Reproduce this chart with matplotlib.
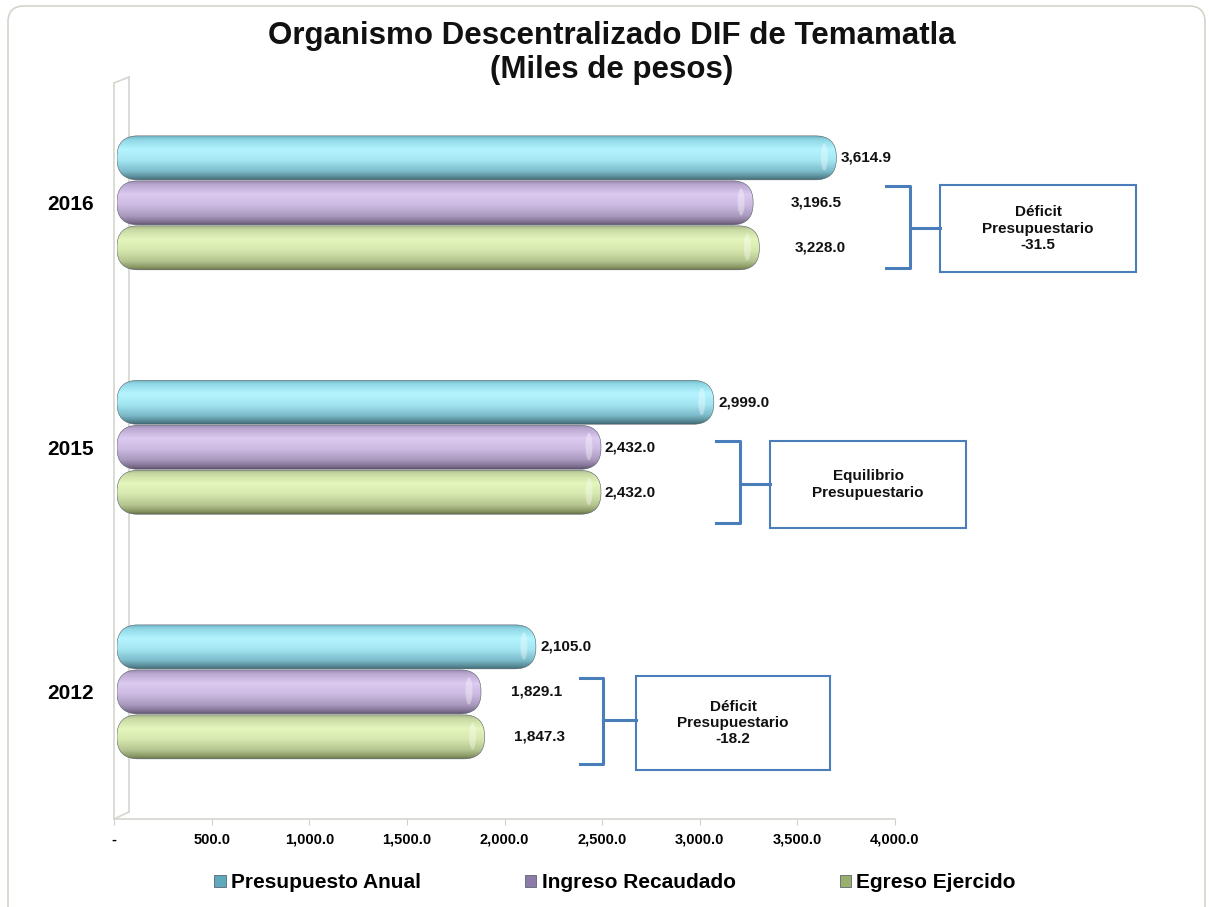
import numpy as np
import matplotlib
matplotlib.use("Agg")
import matplotlib.pyplot as plt
from matplotlib.patches import FancyBboxPatch, Ellipse, Rectangle, Patch
from matplotlib.colors import LinearSegmentedColormap
from matplotlib.lines import Line2D
from matplotlib.transforms import IdentityTransform

plt.rcParams['font.family'] = ['Liberation Sans', 'DejaVu Sans']

# ---------------- data ----------------
years = ["2012", "2015", "2016"]
presupuesto_anual = [2105.0, 2999.0, 3614.9]
ingreso_recaudado = [1829.1, 2432.0, 3196.5]
egreso_ejercido = [1847.3, 2432.0, 3228.0]
series_names = ["Presupuesto Anual", "Ingreso Recaudado", "Egreso Ejercido"]
x_ticks = [0, 500, 1000, 1500, 2000, 2500, 3000, 3500, 4000]
notes = ["Déficit\nPresupuestario\n-18.2",
         "Equilibrio\nPresupuestario",
         "Déficit\nPresupuestario\n-31.5"]
title = "Organismo Descentralizado DIF de Temamatla\n(Miles de pesos)"

# ---------------- styles / layout ----------------
W, H = 1209, 907
label_pad_px = [[5, 5, 4], [30, 4, 38], [29, 4, 35]]  # per series, per year
grad_stops = [
    [(0, "#6fb3c2"), (0.08, "#8fd6e4"), (0.3, "#b4f4ff"), (0.55, "#a4e6f2"),
     (0.8, "#7dbccb"), (0.95, "#53838f"), (1, "#3f6670")],
    [(0, "#9a8ab0"), (0.08, "#baa8d2"), (0.3, "#dccaf0"), (0.55, "#ccbae2"),
     (0.8, "#a898bc"), (0.95, "#7a6a8a"), (1, "#5c5068")],
    [(0, "#a8b886"), (0.08, "#c8d8a2"), (0.3, "#e4f6bc"), (0.55, "#d6e8ae"),
     (0.8, "#b4c490"), (0.95, "#84925e"), (1, "#646e48")],
]
legend_colors = ["#5fa9bd", "#8c7aa8", "#9aae6e"]
bracket_color = "#4a7ebb"
# bracket layout in figure pixels: (x_left, x_right, y_top, y_bottom, y_mid, box_x0, box_x1, box_y0, box_y1)
brackets = [
    (580, 603, 678, 764, 720, 636, 830, 676, 770),
    (716, 740, 441, 523, 484, 770, 966, 441, 528),
    (886, 910, 186, 268, 228, 940, 1136, 185, 272),
]

fig = plt.figure(figsize=(W / 100, H / 100), dpi=100)
fig.patch.set_facecolor("white")

def fx(x):
    return x / W

def fy(y):
    return 1 - y / H

# outer border
fig.add_artist(FancyBboxPatch((8, -30), 1197, H - 6 + 30,
                              boxstyle="round,pad=0,rounding_size=16",
                              transform=IdentityTransform(), facecolor="none",
                              edgecolor="#d4d4cc", linewidth=1.2))

# floor / wall axes (tick scale)
ax_f = fig.add_axes([fx(114), fy(819), 781 / W, 736 / H])
ax_f.set_facecolor("none")
ax_f.set_xlim(0, 4000)
ax_f.set_ylim(0, 1)
for s in ["top", "right"]:
    ax_f.spines[s].set_visible(False)
for s in ["bottom", "left"]:
    ax_f.spines[s].set_color("#d6d6ce")
    ax_f.spines[s].set_linewidth(1.2)
ax_f.set_yticks([])
ax_f.set_xticks(x_ticks)
ax_f.set_xticklabels(["-" if v == 0 else f"{v:,.1f}" for v in x_ticks],
                     fontsize=10.5, fontweight="bold")
ax_f.tick_params(axis="x", direction="out", length=4, color="#d0d0c8", pad=6)
xb = 15 / 781
for seg in [((xb, xb), (7 / 736, 1 + 6 / 736)),
            ((0, xb), (0, 7 / 736)),
            ((0, xb), (1, 1 + 6 / 736))]:
    ax_f.add_line(Line2D(seg[0], seg[1], transform=ax_f.transAxes,
                         color="#d6d6ce", lw=1.2, clip_on=False))

# main bar axes
ax = fig.add_axes([fx(117), fy(819), 796 / W, 736 / H])
ax.set_facecolor("none")
ax.set_xlim(0, 4000)
ax.set_ylim(-0.52, 2.49)
for s in ax.spines.values():
    s.set_visible(False)
ax.set_xticks([])
ax.set_yticks(range(len(years)))
ax.set_yticklabels(years, fontsize=15, fontweight="bold")
ax.tick_params(axis="y", length=0, pad=17)

xu = 4000 / 796          # data units per pixel (x)
yu = 3.01 / 736          # data units per pixel (y)
aspect = yu / xu
bh = 44 * yu
step = 45 * yu
offsets = [step, 0.0, -step]
series = [presupuesto_anual, ingreso_recaudado, egreso_ejercido]
grad = np.linspace(0, 1, 256).reshape(-1, 1)

for k, vals in enumerate(series):
    cmap = LinearSegmentedColormap.from_list(f"g{k}", grad_stops[k])
    ypos = [i + offsets[k] for i in range(len(years))]
    bars = ax.barh(ypos, vals, height=bh, color="none", edgecolor="none")
    for i, rect in enumerate(bars.patches):
        x0, y0 = rect.get_x(), rect.get_y()
        w, h = rect.get_width(), rect.get_height()
        patch = FancyBboxPatch((x0, y0), w, h,
                               boxstyle=f"round,pad=0,rounding_size={21 * xu}",
                               mutation_aspect=aspect, facecolor="none",
                               edgecolor="#55606a", linewidth=0.4, zorder=3)
        ax.add_patch(patch)
        im = ax.imshow(grad, cmap=cmap, aspect="auto", origin="upper",
                       extent=(x0, x0 + w, y0, y0 + h), zorder=2,
                       interpolation="bilinear")
        im.set_clip_path(patch)
        # end cap highlight
        ax.add_patch(Ellipse((x0 + w - 12 * xu, y0 + h * 0.52), 7 * xu, h * 0.62,
                             facecolor="white", alpha=0.35, edgecolor="none",
                             zorder=4))
        ax.annotate(f"{vals[i]:,.1f}", xy=(x0 + w, y0 + h / 2),
                    xytext=(label_pad_px[k][i] * 0.72, 0),
                    textcoords="offset points", ha="left", va="center",
                    fontsize=11, fontweight="bold", color="#111111",
                    annotation_clip=False)

ax.set_xlim(0, 4000)
ax.set_ylim(-0.52, 2.49)

# brackets and note boxes (figure pixel layout)
for b, note in zip(brackets, notes):
    xl, xr, yt, ybt, ym, bx0, bx1, by0, by1 = b
    fig.add_artist(Line2D([fx(xl), fx(xr), fx(xr), fx(xl)],
                          [fy(yt), fy(yt), fy(ybt), fy(ybt)],
                          color=bracket_color, lw=2.2))
    fig.add_artist(Line2D([fx(xr), fx(bx0)], [fy(ym), fy(ym)],
                          color=bracket_color, lw=2.2))
    fig.add_artist(Rectangle((fx(bx0), fy(by1)), fx(bx1) - fx(bx0), fy(by0) - fy(by1),
                             facecolor="white", edgecolor=bracket_color, lw=1.5))
    fig.text(fx((bx0 + bx1) / 2), fy((by0 + by1) / 2), note, ha="center",
             va="center", fontsize=11, fontweight="bold", linespacing=1.2,
             color="#111111")

# title
fig.text(fx(612), fy(53), title, ha="center", va="center", fontsize=22.5,
         fontweight="bold", linespacing=1.18, color="#111111")

# legend
handles = [Patch(facecolor=c, edgecolor="#5a6670", linewidth=0.6) for c in legend_colors]
fig.legend(handles, series_names, loc="center", bbox_to_anchor=(fx(615), fy(883)),
           ncol=3, frameon=False, handlelength=0.55, handleheight=0.55,
           handletextpad=0.25, columnspacing=5.0,
           prop={"size": 15, "weight": "bold"})

fig.savefig("out.png", dpi=100)
